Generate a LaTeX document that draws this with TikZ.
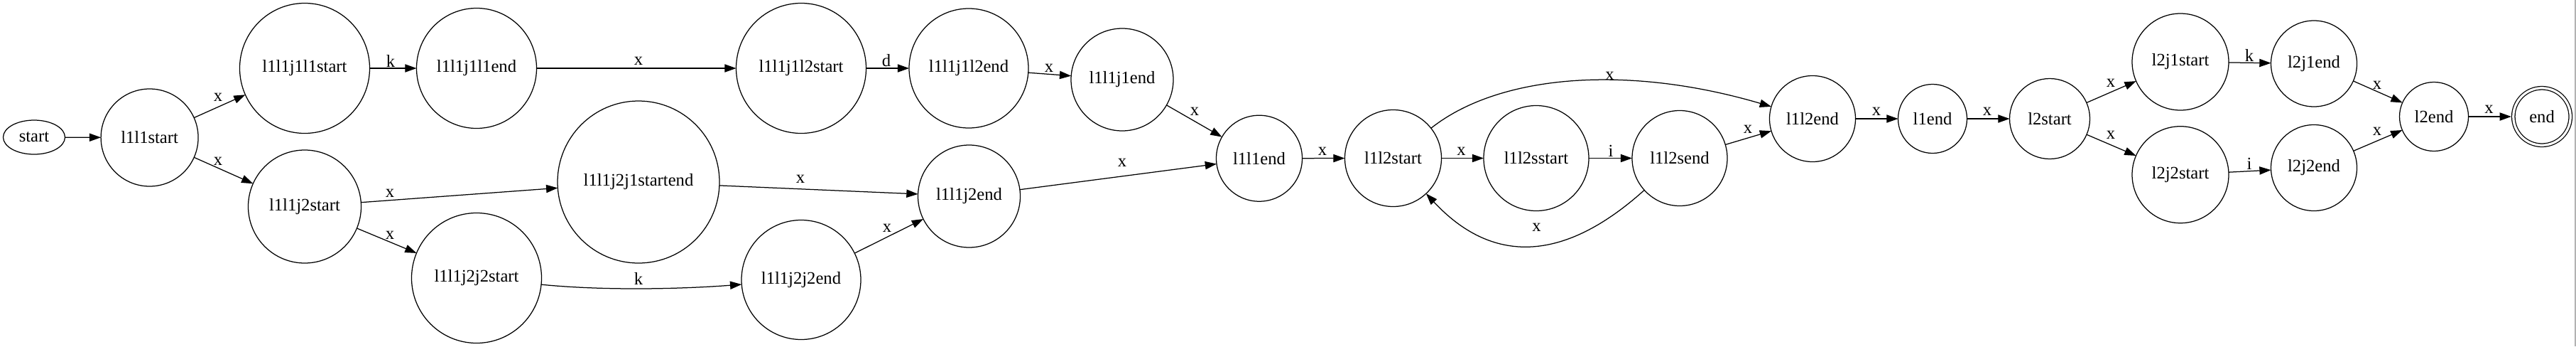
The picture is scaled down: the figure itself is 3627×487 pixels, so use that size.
\documentclass[tikz,border=0pt]{standalone}
\usepackage{fontspec}
\setmainfont{Liberation Serif}
\usetikzlibrary{arrows.meta,shapes.geometric}
\tikzset{
  st/.style={circle,draw=black,line width=1pt,minimum size=#1*0.8pt},
  lbl/.style={inner sep=0pt},
  edge/.style={draw=black,line width=1pt,-{Triangle[length=13pt,width=9pt]}}
}
\begin{document}
\begin{tikzpicture}[y=0.80pt, x=0.8pt,yscale=-1, inner sep=0pt, outer sep=0pt,
    font=\fontsize{19.7pt}{24pt}\selectfont]
\useasboundingbox (0,0) rectangle (3627,487);
\draw[gray!60,line width=1pt] (3626,0) -- (3626,487);
% states
\node[ellipse,draw=black,line width=1pt,minimum width=87*0.8pt,
  minimum height=48*0.8pt] (start) at (48,193) {start};
\node[st=137] (l1l1start) at (210.6,193.5) {l1l1start};
\node[st=183] (l1l1j1l1start) at (429,96) {l1l1j1l1start};
\node[st=169] (l1l1j1l1end) at (671,96) {l1l1j1l1end};
\node[st=159] (l1l1j2start) at (429,290.5) {l1l1j2start};
\node[st=228] (l1l1j2j1startend) at (899,256) {l1l1j2j1startend};
\node[st=183] (l1l1j2j2start) at (671,391) {l1l1j2j2start};
\node[st=183] (l1l1j1l2start) at (1128,96) {l1l1j1l2start};
\node[st=168] (l1l1j1l2end) at (1364,96) {l1l1j1l2end};
\node[st=144] (l1l1j1end) at (1580,112) {l1l1j1end};
\node[st=144] (l1l1j2end) at (1364.5,276) {l1l1j2end};
\node[st=168] (l1l1j2j2end) at (1128,393.5) {l1l1j2j2end};
\node[st=121] (l1l1end) at (1773,222.7) {l1l1end};
\node[st=136] (l1l2start) at (1961.5,222.5) {l1l2start};
\node[st=148] (l1l2sstart) at (2163,222.5) {l1l2sstart};
\node[st=134] (l1l2send) at (2365,222.5) {l1l2send};
\node[st=121] (l1l2end) at (2552,167) {l1l2end};
\node[st=97] (l1end) at (2721,167) {l1end};
\node[st=113] (l2start) at (2886,167) {l2start};
\node[st=136] (l2j1start) at (3070,87) {l2j1start};
\node[st=121] (l2j1end) at (3258,89.5) {l2j1end};
\node[st=136] (l2j2start) at (3070,245.7) {l2j2start};
\node[st=121] (l2j2end) at (3258,236) {l2j2end};
\node[st=97] (l2end) at (3427,164) {l2end};
\node[st=80.5,double,double distance=2.6pt,outer sep=2.3pt] (end) at (3579,164) {end};
% transitions
\path[edge] (start) -- (l1l1start);
\path[edge] (l1l1start) -- (l1l1j1l1start);
\path[edge] (l1l1start) -- (l1l1j2start);
\path[edge] (l1l1j1l1start) -- (l1l1j1l1end);
\path[edge] (l1l1j1l1end) -- (l1l1j1l2start);
\path[edge] (l1l1j1l2start) -- (l1l1j1l2end);
\path[edge] (l1l1j1l2end) -- (l1l1j1end);
\path[edge] (l1l1j1end) -- (l1l1end);
\path[edge] (l1l1j2start) -- (l1l1j2j1startend);
\path[edge] (l1l1j2start) -- (l1l1j2j2start);
\path[edge] (l1l1j2j1startend) -- (l1l1j2end);
\path[edge] (l1l1j2j2start) .. controls (850,409) and (960,406.5) .. (l1l1j2j2end);
\path[edge] (l1l1j2j2end) -- (l1l1j2end);
\path[edge] (l1l1j2end) -- (l1l1end);
\path[edge] (l1l1end) -- (l1l2start);
\path[edge] (l1l2start) -- (l1l2sstart);
\path[edge] (l1l2sstart) -- (l1l2send);
\path[edge] (l1l2send) -- (l1l2end);
\path[edge] (l1l2start) .. controls (2110,105) and (2290,90) .. (l1l2end);
\path[edge] (l1l2send) .. controls (2200,371) and (2100,371) .. (l1l2start);
\path[edge] (l1l2end) -- (l1end);
\path[edge] (l1end) -- (l2start);
\path[edge] (l2start) -- (l2j1start);
\path[edge] (l2start) -- (l2j2start);
\path[edge] (l2j1start) -- (l2j1end);
\path[edge] (l2j2start) -- (l2j2end);
\path[edge] (l2j1end) -- (l2end);
\path[edge] (l2j2end) -- (l2end);
\path[edge] (l2end) -- (end);
% labels
\node[lbl] (text1) at (307,137) {x};
\node[lbl] (text2) at (307,227) {x};
\node[lbl] (text3) at (550,86) {k};
\node[lbl] (text4) at (899,86) {x};
\node[lbl] (text5) at (1248,85) {d};
\node[lbl] (text6) at (1477,96) {x};
\node[lbl] (text7) at (1682,157) {x};
\node[lbl] (text8) at (549,272) {x};
\node[lbl] (text9) at (549,331) {x};
\node[lbl] (text10) at (1127,252) {x};
\node[lbl] (text11) at (899,392) {k};
\node[lbl] (text12) at (1249,321) {x};
\node[lbl] (text13) at (1580,229) {x};
\node[lbl] (text14) at (1862,213) {x};
\node[lbl] (text15) at (2057.5,213) {x};
\node[lbl] (text16) at (2268,212) {i};
\node[lbl] (text17) at (2461,182) {x};
\node[lbl] (text18) at (2266.5,107) {x};
\node[lbl] (text19) at (2163.5,320) {x};
\node[lbl] (text20) at (2642,157) {x};
\node[lbl] (text21) at (2798,157) {x};
\node[lbl] (text22) at (2972,117) {x};
\node[lbl] (text23) at (2972,190) {x};
\node[lbl] (text24) at (3167,78) {k};
\node[lbl] (text25) at (3167,230) {i};
\node[lbl] (text26) at (3347,120) {x};
\node[lbl] (text27) at (3347,185) {x};
\node[lbl] (text28) at (3504.5,154) {x};
\end{tikzpicture}
\end{document}
